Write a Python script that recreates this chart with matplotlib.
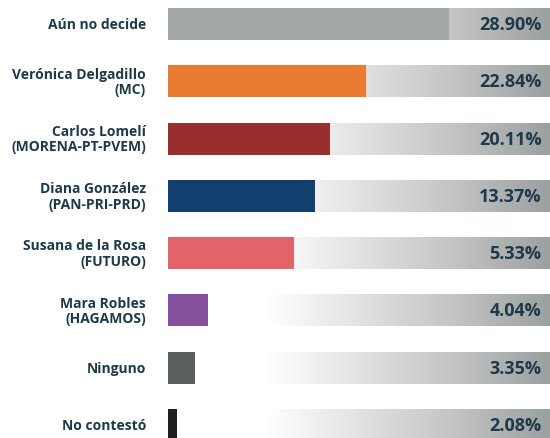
import matplotlib
matplotlib.use("Agg")
import matplotlib.pyplot as plt
import numpy as np
from matplotlib.colors import LinearSegmentedColormap
from matplotlib.transforms import blended_transform_factory

# ---- data ----
labels = ["Aún no decide", "Verónica Delgadillo\n(MC)", "Carlos Lomelí\n(MORENA-PT-PVEM)",
          "Diana González\n(PAN-PRI-PRD)", "Susana de la Rosa\n(FUTURO)", "Mara Robles\n(HAGAMOS)",
          "Ninguno", "No contestó"]
values = [28.90, 22.84, 20.11, 13.37, 5.33, 4.04, 3.35, 2.08]
value_labels = ["28.90%", "22.84%", "20.11%", "13.37%", "5.33%", "4.04%", "3.35%", "2.08%"]
# bar lengths as drawn in the original graphic (share of the gray track, %)
bar_lengths = [73.6, 51.8, 42.4, 38.5, 33.0, 10.5, 7.1, 2.4]
colors = ["#a5a8a8", "#e87b2f", "#992e2f", "#133f6f", "#e2646a", "#864f9e", "#5c6060", "#221e1f"]

TEXT = "#1e3a4a"
W, H = 550, 439
fig = plt.figure(figsize=(W / 100, H / 100), dpi=100)
ax = fig.add_axes([168 / W, 0, 1 - 168 / W, 1])
step = 57.29

cmap = LinearSegmentedColormap.from_list(
    "track", [(0, "#ffffff"), (0.26, "#ffffff"), (0.5, "#e2e2e2"), (0.75, "#c4c4c4"), (1.0, "#9ba0a0")])
grad = np.linspace(0, 1, 512).reshape(1, -1)
h = 32 / step
n = len(labels)
ypos = np.arange(n)
for i in range(n):
    ax.imshow(grad, cmap=cmap, aspect="auto", extent=(0, 100, i + h / 2, i - h / 2),
              interpolation="bilinear", zorder=1)
ax.barh(ypos, bar_lengths, height=h, color=colors, zorder=2, linewidth=0)
ax.set_ylim(7 + (H - 426) / step, -25 / step)
ax.set_xlim(0, 100)
ax.axis("off")

trans = blended_transform_factory(fig.transFigure, ax.transData)
for i in range(n):
    ax.text(146 / W, i, labels[i], transform=trans, ha="right", va="center",
            multialignment="right", fontsize=10, fontweight="bold", color=TEXT,
            family="Open Sans", linespacing=1.12)
    ax.text(97.8, i, value_labels[i], ha="right", va="center", fontsize=13,
            fontweight="bold", color=TEXT, family="Open Sans", zorder=3)

fig.savefig("out.png", dpi=100)
